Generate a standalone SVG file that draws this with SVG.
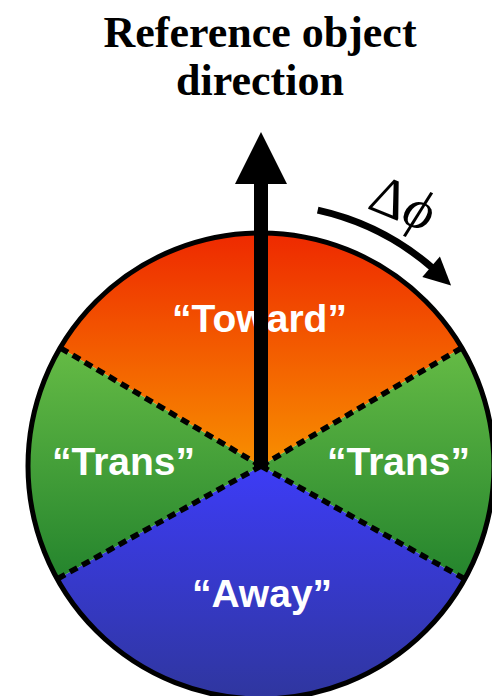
<svg xmlns="http://www.w3.org/2000/svg" width="492" height="696" viewBox="0 0 492 696">
  <defs>
    <linearGradient id="gToward" gradientUnits="userSpaceOnUse" x1="0" y1="231" x2="0" y2="466">
      <stop offset="0" stop-color="#ee2800"/>
      <stop offset="1" stop-color="#f88f00"/>
    </linearGradient>
    <linearGradient id="gTrans" gradientUnits="userSpaceOnUse" x1="0" y1="348" x2="0" y2="580">
      <stop offset="0" stop-color="#65bb45"/>
      <stop offset="1" stop-color="#24842d"/>
    </linearGradient>
    <linearGradient id="gAway" gradientUnits="userSpaceOnUse" x1="0" y1="466" x2="0" y2="700">
      <stop offset="0" stop-color="#3d3cf6"/>
      <stop offset="1" stop-color="#2f369e"/>
    </linearGradient>
  </defs>
  <style>
    .title { font-family: "Liberation Serif", "Times New Roman", serif; font-weight: bold; font-size: 44px; fill: #000; text-anchor: middle; }
    .label { font-family: "Liberation Sans", Arial, sans-serif; font-weight: bold; font-size: 39px; fill: #fff; text-anchor: middle; }
    .divider { stroke: #000; stroke-width: 5.5; stroke-dasharray: 8.5 5.5; fill: none; }
    .rim { stroke: #000; stroke-width: 5; fill: none; }
    .delta { font-family: "Liberation Serif", "DejaVu Serif", serif; font-size: 56px; fill: #000; }
  </style>
  <rect width="492" height="696" fill="#fff"/>

  <g id="title">
    <text class="title" x="260" y="47">Reference object</text>
    <text class="title" x="260" y="95">direction</text>
  </g>

  <g id="sector-toward">
    <path d="M261,466 L60.2,347.8 A233,233 0 0 1 461.8,347.8 Z" fill="url(#gToward)"/>
  </g>
  <g id="sector-trans-right">
    <path d="M261,466 L461.8,347.8 A233,233 0 0 1 464.8,579 Z" fill="url(#gTrans)"/>
  </g>
  <g id="sector-away">
    <path d="M261,466 L464.8,579 A233,233 0 0 1 57.2,579 Z" fill="url(#gAway)"/>
  </g>
  <g id="sector-trans-left">
    <path d="M261,466 L57.2,579 A233,233 0 0 1 60.2,347.8 Z" fill="url(#gTrans)"/>
  </g>

  <g id="dividers">
    <line class="divider" x1="261" y1="466" x2="60.2" y2="347.8"/>
    <line class="divider" x1="261" y1="466" x2="461.8" y2="347.8"/>
    <line class="divider" x1="261" y1="466" x2="57.2" y2="579"/>
    <line class="divider" x1="261" y1="466" x2="464.8" y2="579"/>
  </g>

  <g id="rim">
    <circle class="rim" cx="261" cy="466" r="233"/>
  </g>

  <g id="label-toward"><text class="label" x="259.5" y="332">“Toward”</text></g>
  <g id="label-trans-left"><text class="label" x="123.5" y="475">“Trans”</text></g>
  <g id="label-trans-right"><text class="label" x="398.5" y="475">“Trans”</text></g>
  <g id="label-away"><text class="label" x="262" y="607">“Away”</text></g>

  <g id="connectors">
    <g id="reference-arrow">
      <rect x="254" y="180" width="14" height="288" fill="#000"/>
      <polygon points="261,132 235,184 287,184" fill="#000"/>
    </g>
    <g id="rotation-arrow">
      <path d="M317.7,210.2 A262,262 0 0 1 432.9,268.3" fill="none" stroke="#000" stroke-width="7"/>
      <polygon points="451.1,285.6 439.9,256.5 422.3,277.1" fill="#000"/>
    </g>
  </g>

  <g id="delta-phi">
    <text class="delta" transform="translate(366,208) rotate(22)" x="0" y="0">Δ<tspan font-style="italic">ϕ</tspan></text>
  </g>
</svg>
